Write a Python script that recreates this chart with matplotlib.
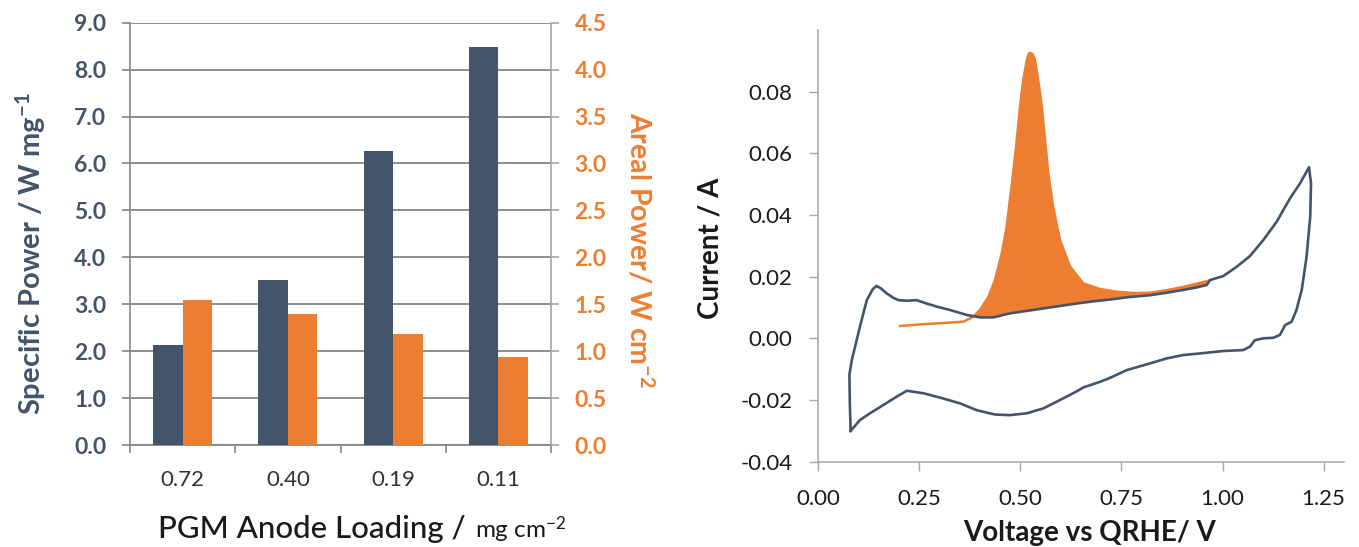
import numpy as np
import matplotlib
matplotlib.use('Agg')
import matplotlib.pyplot as plt
from matplotlib.ticker import FixedLocator, NullFormatter

plt.rcParams['font.family'] = ['Lato', 'DejaVu Sans']
plt.rcParams['mathtext.fontset'] = 'custom'
plt.rcParams['mathtext.rm'] = 'Lato'
plt.rcParams['mathtext.it'] = 'Lato:italic'
plt.rcParams['mathtext.bf'] = 'Lato:bold'
plt.rcParams['mathtext.default'] = 'regular'

# ---------------- data: bar chart ----------------
categories = ['0.72', '0.40', '0.19', '0.11']
specific_power = [2.13, 3.51, 6.26, 8.49]      # W mg-1 (left axis)
areal_power = [1.545, 1.40, 1.18, 0.935]       # W cm-2 (right axis)

# ---------------- data: cyclic voltammogram ----------------
anodic_v = [0.080, 0.078, 0.077, 0.083, 0.091, 0.103, 0.120, 0.135, 0.144, 0.155,
            0.169, 0.185, 0.198, 0.220, 0.243, 0.268, 0.293, 0.326, 0.367, 0.400,
            0.433, 0.474, 0.515, 0.557, 0.598, 0.639, 0.680, 0.722, 0.763, 0.821,
            0.862, 0.903, 0.935, 0.961, 0.969, 1.002, 1.035, 1.068, 1.101, 1.134,
            1.167, 1.192, 1.214]
anodic_i = [-0.0300, -0.0211, -0.0117, -0.0070, -0.0027, 0.0038, 0.0124, 0.0160, 0.0170, 0.0162,
            0.0146, 0.0132, 0.0124, 0.0122, 0.0124, 0.0113, 0.0103, 0.0092, 0.0076, 0.0068,
            0.0068, 0.0081, 0.0089, 0.0097, 0.0105, 0.0113, 0.0120, 0.0126, 0.0133, 0.0140,
            0.0148, 0.0157, 0.0165, 0.0173, 0.0189, 0.0202, 0.0232, 0.0267, 0.0319, 0.0378,
            0.0454, 0.0503, 0.0555]

cathodic_v = [1.214, 1.219, 1.217, 1.208, 1.196, 1.183, 1.171, 1.155, 1.142, 1.126,
              1.101, 1.080, 1.068, 1.051, 1.002, 0.944, 0.903, 0.862, 0.821, 0.763,
              0.722, 0.697, 0.656, 0.639, 0.598, 0.557, 0.516, 0.474, 0.437, 0.392,
              0.351, 0.309, 0.260, 0.219, 0.194, 0.161, 0.128, 0.103, 0.080]
cathodic_i = [0.0555, 0.0503, 0.0394, 0.0265, 0.0157, 0.0092, 0.0054, 0.0043, 0.0011, 0.0002,
              0.0000, -0.0006, -0.0027, -0.0038, -0.0041, -0.0049, -0.0054, -0.0065, -0.0081, -0.0103,
              -0.0128, -0.0141, -0.0159, -0.0172, -0.0200, -0.0227, -0.0243, -0.0249, -0.0247, -0.0233,
              -0.0211, -0.0195, -0.0178, -0.0170, -0.0189, -0.0216, -0.0243, -0.0265, -0.0300]

co_v = [0.202, 0.250, 0.300, 0.359, 0.383, 0.400, 0.421, 0.437, 0.454, 0.466,
        0.474, 0.482, 0.491, 0.499, 0.507, 0.516, 0.520, 0.525, 0.530, 0.536,
        0.544, 0.553, 0.561, 0.569, 0.581, 0.598, 0.623, 0.656, 0.697, 0.738,
        0.780, 0.821, 0.862, 0.903, 0.967]
co_i = [0.0040, 0.0045, 0.0049, 0.0054, 0.0070, 0.0092, 0.0135, 0.0189, 0.0276, 0.0362,
        0.0449, 0.0535, 0.0643, 0.0751, 0.0838, 0.0903, 0.0922, 0.0926, 0.0922, 0.0903,
        0.0838, 0.0751, 0.0643, 0.0535, 0.0427, 0.0319, 0.0232, 0.0178, 0.0160, 0.0151,
        0.0147, 0.0148, 0.0156, 0.0167, 0.0187]

DARK = '#44546A'
ORANGE = '#ED7D31'
GRID = '#868686'
AXGREY = '#A6A6A6'
TXT = '#1a1a1a'

W, H = 1359, 547
fig = plt.figure(figsize=(W / 100, H / 100), dpi=100)

# ================= left: bar chart =================
ax1 = fig.add_axes([130 / W, (H - 445) / H, 421 / W, (445 - 22.7) / H])
ax2 = ax1.twinx()
x = np.arange(len(categories))
bw = 0.28
ax1.bar(x - bw / 2, specific_power, width=bw, color=DARK, zorder=3)
ax2.bar(x + bw / 2, areal_power, width=bw, color=ORANGE, zorder=3)

ax1.set_xlim(-0.5, len(categories) - 0.5)
ax1.set_ylim(0, 9)
ax2.set_ylim(0, 4.5)
ax1.set_yticks(np.arange(0, 9.01, 1.0))
ax1.set_yticklabels([f'{v:.1f}' for v in np.arange(0, 9.01, 1.0)])
ax2.set_yticks(np.arange(0, 4.51, 0.5))
ax2.set_yticklabels([f'{v:.1f}' for v in np.arange(0, 4.51, 0.5)])

ax1.set_axisbelow(True)
ax1.yaxis.grid(True, color=GRID, lw=1.3)
ax1.xaxis.set_major_locator(FixedLocator(np.arange(-0.5, len(categories), 1.0)))
ax1.xaxis.set_major_formatter(NullFormatter())
ax1.xaxis.set_minor_locator(FixedLocator(x))
ax1.set_xticklabels(categories, minor=True)
ax1.tick_params(axis='x', which='major', direction='out', length=6, width=1.2, color=GRID)
ax1.tick_params(axis='x', which='minor', length=0, pad=18, labelsize=16, labelcolor='#333333')
ax1.tick_params(axis='y', direction='out', length=6, width=1.2, color=GRID, pad=11,
                labelsize=16.5, labelcolor=DARK)
for lab in ax1.get_yticklabels():
    lab.set_fontweight('bold')
ax2.tick_params(axis='y', direction='out', length=6, width=1.2, color=AXGREY, pad=11,
                labelsize=16.5, labelcolor=ORANGE)
for lab in ax2.get_yticklabels():
    lab.set_fontweight('bold')

for a in (ax1, ax2):
    a.spines['top'].set_visible(False)
ax1.spines['left'].set_color(GRID)
ax1.spines['left'].set_linewidth(1.2)
ax1.spines['bottom'].set_color(GRID)
ax1.spines['bottom'].set_linewidth(1.3)
ax1.spines['right'].set_visible(False)
ax2.spines['left'].set_visible(False)
ax2.spines['bottom'].set_visible(False)
ax2.spines['right'].set_color(AXGREY)
ax2.spines['right'].set_linewidth(1.2)

fig.text(31 / W, 1 - 254 / H, 'Specific Power / W mg$^{-1}$', rotation=90,
         ha='center', va='center', fontsize=21, fontweight='bold', color=DARK)
fig.text(640 / W, 1 - 250 / H, 'Areal Power/ W cm$^{-2}$', rotation=270,
         ha='center', va='center', fontsize=20.5, fontweight='bold', color=ORANGE)
t1 = fig.text(158 / W, 1 - 538 / H, 'PGM Anode Loading /', ha='left', va='baseline',
              fontsize=22.5, fontweight='medium', color=TXT)
fig.canvas.draw()
bb = t1.get_window_extent()
fig.text((bb.x1 + 9) / W, 1 - 538 / H, 'mg cm$^{-2}$', ha='left', va='baseline',
         fontsize=17.5, color=TXT)

# ================= right: CV =================
ax3 = fig.add_axes([818.3 / W, (H - 461.7) / H, 1.3 * 404.2 / W, (461.7 - 30) / H])
dv = np.array(anodic_v + cathodic_v[1:])
di = np.array(anodic_i + cathodic_i[1:])

av = np.array(anodic_v)
ai = np.array(anodic_i)
cv = np.array(co_v)
ci = np.array(co_i)
mo = cv >= 0.383
md = (av >= 0.39) & (av <= 0.962)
poly_v = np.concatenate([cv[mo], av[md][::-1]])
poly_i = np.concatenate([ci[mo], ai[md][::-1]])
ax3.fill(poly_v, poly_i, color=ORANGE, lw=0, zorder=1)
ax3.plot(cv, ci, color=ORANGE, lw=1.8, zorder=2)
ax3.plot(dv, di, color=DARK, lw=1.9, zorder=3)

ax3.set_xlim(0, 1.3)
ax3.set_ylim(-0.04, 0.1)
ax3.set_xticks([0, 0.25, 0.5, 0.75, 1.0, 1.25])
ax3.set_xticklabels(['0.00', '0.25', '0.50', '0.75', '1.00', '1.25'])
ax3.set_yticks([-0.04, -0.02, 0, 0.02, 0.04, 0.06, 0.08])
ax3.set_yticklabels(['-0.04', '-0.02', '0.00', '0.02', '0.04', '0.06', '0.08'])
ax3.tick_params(direction='out', length=6.5, width=1, color=AXGREY, labelsize=16,
                labelcolor=TXT)
ax3.tick_params(axis='x', pad=13)
ax3.tick_params(axis='y', pad=12)
ax3.spines['top'].set_visible(False)
ax3.spines['right'].set_visible(False)
for s in ('left', 'bottom'):
    ax3.spines[s].set_color(AXGREY)
    ax3.spines[s].set_linewidth(1.1)

fig.text(710 / W, 1 - 248 / H, 'Current / A', rotation=90, ha='center', va='center',
         fontsize=20, fontweight='bold', color=TXT)
fig.text(1090 / W, 1 - 533 / H, 'Voltage vs QRHE/ V', ha='center', va='center',
         fontsize=20, fontweight='bold', color=TXT)

fig.savefig('out.png', dpi=100)
